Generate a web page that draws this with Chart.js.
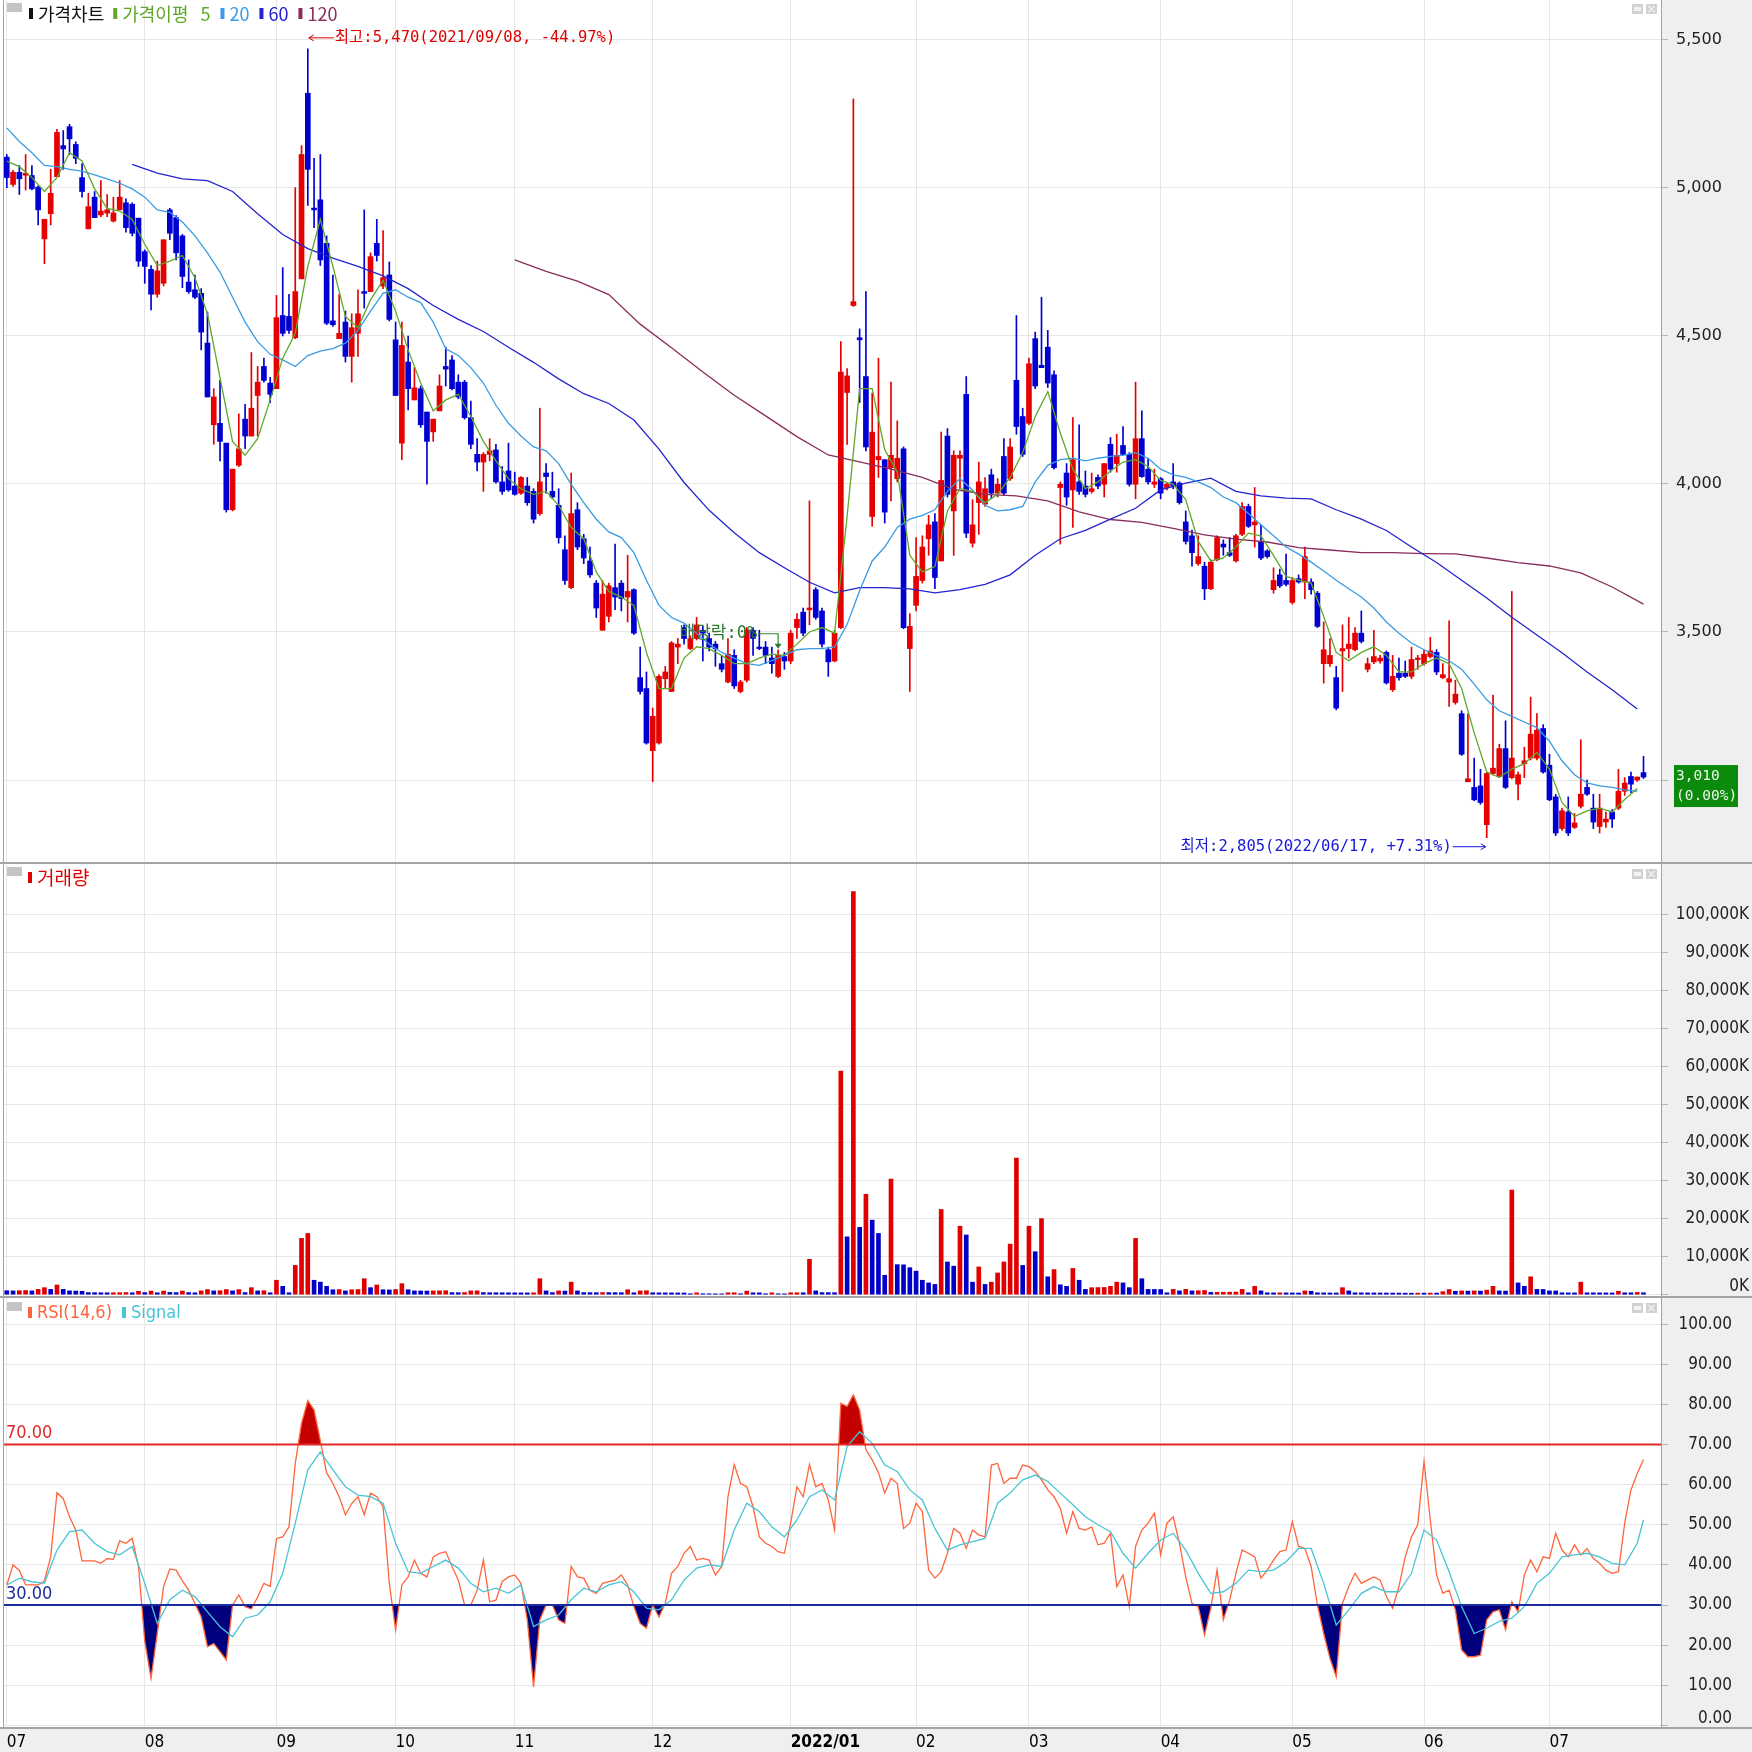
<!DOCTYPE html>
<html lang="ko">
<head>
<meta charset="utf-8">
<title>가격차트</title>
<script src="https://cdn.jsdelivr.net/npm/chart.js@4.4.1/dist/chart.umd.min.js"></script>
<style>
  html, body { margin:0; padding:0; background:#fff; }
  #wrap { position:relative; width:1752px; height:1752px; overflow:hidden; background:#fff; }
  .fill { position:absolute; background:#efefef; }
  .rule { position:absolute; background:#a4a4a4; }
  canvas { position:absolute; left:0; }
</style>
</head>
<body>
<div id="wrap">
  <div class="fill" style="left:1662px;top:0;width:90px;height:1752px"></div>
  <div class="fill" style="left:0;top:1729px;width:1752px;height:23px"></div>
  <canvas id="priceChart" width="1752" height="862" style="top:0"></canvas>
  <canvas id="volumeChart" width="1752" height="435" style="top:862px"></canvas>
  <canvas id="rsiChart" width="1752" height="455" style="top:1297px"></canvas>
  <div class="rule" style="left:0;top:862px;width:1752px;height:2px"></div>
  <div class="rule" style="left:0;top:1296px;width:1752px;height:2px"></div>
  <div class="rule" style="left:0;top:1727px;width:1752px;height:2px"></div>
  <div class="rule" style="left:3px;top:0;width:1px;height:1728px"></div>
</div>
<script>
// ---------------- DATA (daily, 2021/07/01 .. 2022/07/22) ----------------
const monthStarts = [0, 22, 43, 62, 81, 103, 125, 145, 163, 184, 205, 226, 246];
const monthNames  = ['07','08','09','10','11','12','2022/01','02','03','04','05','06','07'];
const priceTicks  = [3000, 3500, 4000, 4500, 5000, 5500];
const volumeTicks = [0, 10000, 20000, 30000, 40000, 50000, 60000, 70000, 80000, 90000, 100000];
const rsiTicks    = [0, 10, 20, 30, 40, 50, 60, 70, 80, 90, 100];

const opens = [
5104,5012,5053,5043,5042,5003,4828,4913,5038,5143,
5207,5147,5035,4862,4969,4909,4915,4888,4926,4950,
4945,4898,4785,4725,4641,4678,4926,4900,4838,4682,
4656,4644,4476,4200,4205,4138,3913,4063,4219,4162,
4299,4397,4341,4322,4569,4566,4494,4693,5320,4932,
4960,4813,4551,4491,4547,4431,4509,4650,4650,4813,
4669,4706,4487,4138,4412,4284,4322,4243,4176,4247,
4397,4419,4344,4344,4224,4100,4074,4100,4115,4007,
4044,3993,3969,3993,3975,3900,4037,3975,3928,3778,
3650,3913,3815,3740,3665,3506,3553,3650,3665,3618,
3643,3346,3309,3099,3125,3342,3299,3449,3515,3444,
3478,3506,3478,3459,3393,3331,3421,3299,3337,3506,
3449,3449,3412,3350,3417,3402,3515,3567,3575,3643,
3571,3440,3402,3515,4309,4603,4494,4363,3890,4082,
4082,4055,4018,4119,3444,3590,3674,3815,3872,3740,
4162,3909,4087,4303,3800,3937,3932,4031,3969,4093,
4018,4350,4228,4205,4491,4401,4462,4369,3988,4037,
3980,4007,3993,3975,4022,3999,4134,4069,4130,4100,
3999,4153,4050,3999,4018,3988,4007,4003,3872,3825,
3731,3722,3646,3744,3797,3768,3740,3830,3924,3862,
3806,3774,3643,3693,3674,3600,3680,3669,3669,3631,
3393,3393,3346,3436,3444,3440,3496,3374,3399,3402,
3431,3305,3361,3361,3350,3407,3393,3417,3431,3346,
3331,3262,3224,2994,2975,2980,2849,3022,3012,3106,
3008,2986,3055,3074,3074,3174,3050,2943,2836,2892,
2840,2911,2975,2905,2843,2858,2892,2905,2962,3012,
3000,3025];

const highs = [
5113,5060,5076,5113,5076,5007,4894,5063,5198,5194,
5215,5156,5082,4982,4988,5025,4978,4969,5025,4963,
4950,4898,4791,4738,4753,4825,4931,4907,4843,4757,
4706,4660,4581,4322,4350,4138,4050,4237,4269,4444,
4397,4425,4360,4637,4731,4641,5001,5143,5470,5100,
5113,4838,4706,4641,4584,4575,4656,4926,4781,4894,
4856,4750,4547,4547,4500,4393,4331,4243,4219,4369,
4462,4434,4369,4350,4280,4153,4106,4153,4134,4059,
4138,4040,4025,4022,3984,4256,4069,4040,3984,3825,
4037,3937,3830,3787,3674,3674,3665,3797,3674,3759,
3646,3449,3365,3243,3356,3384,3468,3478,3524,3487,
3549,3519,3496,3468,3421,3478,3440,3337,3515,3515,
3506,3468,3449,3440,3431,3506,3562,3581,3943,3650,
3581,3449,3506,4481,4390,5301,4524,4650,4307,4425,
4082,4344,4213,4125,3562,3819,3825,3894,3900,4175,
4187,4112,4112,4363,3947,4074,4022,4050,4018,4153,
4153,4569,4256,4425,4513,4631,4519,4382,4007,4069,
4224,4200,4044,4037,4031,4069,4157,4168,4194,4106,
4344,4247,4087,4050,4022,4003,4069,4007,3909,3844,
3825,3736,3744,3825,3811,3819,3830,3937,3932,3988,
3862,3778,3717,3712,3763,3684,3693,3787,3680,3637,
3534,3478,3384,3524,3549,3515,3571,3412,3506,3421,
3436,3421,3412,3402,3449,3421,3440,3482,3440,3393,
3538,3337,3234,3224,3074,3036,3027,3287,3121,3200,
3637,3027,3111,3280,3224,3187,3087,2952,2905,2943,
2887,3136,3000,2952,2952,2892,2900,3036,3008,3027,
3010,3080];

const lows = [
5001,5005,4978,4993,4993,4875,4744,4875,5038,5063,
5113,5082,4969,4862,4900,4903,4903,4885,4926,4851,
4838,4735,4678,4588,4631,4669,4825,4757,4663,4644,
4626,4453,4294,4134,4078,3905,3909,4059,4119,4162,
4162,4344,4275,4322,4500,4509,4491,4693,4941,4866,
4738,4538,4532,4491,4412,4344,4431,4594,4650,4753,
4660,4551,4299,4082,4250,4284,4191,3999,4144,4247,
4331,4318,4288,4219,4119,4044,3975,4078,4003,3965,
3975,3962,3965,3928,3868,3894,3969,3950,3800,3661,
3646,3778,3731,3684,3549,3506,3534,3575,3571,3534,
3492,3290,3121,2994,3121,3309,3299,3393,3459,3440,
3473,3402,3436,3384,3365,3328,3309,3294,3331,3421,
3440,3393,3361,3346,3374,3393,3478,3487,3524,3543,
3449,3350,3399,3511,4134,4600,4275,4112,3857,4022,
3868,3943,4007,3511,3299,3571,3665,3759,3646,3740,
3956,3759,3984,3819,3787,3830,3924,3950,3956,3962,
4012,4168,4093,4200,4322,4393,4326,4050,3797,3928,
3853,3965,3956,3969,3984,3956,4040,4040,4097,3993,
3950,4022,3999,3988,3950,3980,3984,3932,3797,3722,
3725,3609,3643,3740,3759,3755,3736,3825,3853,3787,
3744,3750,3631,3650,3656,3594,3665,3613,3628,3515,
3327,3384,3237,3299,3412,3436,3463,3365,3393,3395,
3324,3299,3337,3346,3342,3374,3388,3412,3356,3342,
3249,3256,3083,2994,2930,2918,2805,3017,3008,2971,
3004,2933,3008,3068,3068,3023,2930,2812,2830,2812,
2836,2905,2948,2836,2821,2840,2840,2900,2948,2957,
2995,3005];

const closes = [
5035,5053,5031,5050,4997,4926,4894,4982,5188,5132,
5166,5100,4988,4937,4900,4922,4926,4916,4969,4866,
4847,4753,4735,4641,4720,4825,4847,4781,4701,4650,
4631,4513,4294,4294,4144,3913,4050,4119,4162,4256,
4344,4350,4303,4562,4509,4519,4650,5113,5063,4926,
4757,4543,4538,4509,4431,4528,4575,4644,4768,4772,
4697,4556,4299,4468,4322,4325,4200,4144,4219,4331,
4388,4322,4294,4224,4134,4074,4100,4112,4007,3975,
3980,3965,4022,3937,3881,4007,4025,3956,3819,3674,
3900,3787,3750,3693,3581,3628,3656,3618,3613,3637,
3496,3299,3125,3215,3350,3365,3463,3459,3478,3478,
3524,3496,3449,3444,3374,3425,3318,3331,3506,3478,
3444,3421,3393,3421,3402,3496,3543,3496,3581,3549,
3459,3399,3496,4378,4365,4616,4487,4125,4175,4093,
3905,4097,4087,3515,3519,3688,3787,3862,3684,4012,
3965,4097,4097,3834,3862,4007,3984,3969,3999,3969,
4125,4194,4100,4406,4331,4393,4341,4055,3999,3956,
4082,3975,3965,3984,3993,4069,4050,4097,4100,3999,
4153,4025,4007,4007,3969,3999,3993,3937,3806,3768,
3755,3646,3736,3819,3787,3759,3825,3924,3857,3872,
3750,3755,3674,3656,3661,3674,3669,3755,3643,3519,
3440,3421,3243,3444,3459,3496,3468,3393,3417,3412,
3328,3350,3346,3350,3407,3412,3425,3436,3365,3356,
3342,3290,3087,3004,2933,2924,3022,3040,3106,2975,
3074,3018,3065,3155,3168,3027,2933,2821,2896,2821,
2855,2952,2952,2858,2905,2868,2868,2962,2990,2986,
3010,3010];

// volume in thousand shares (K)
const volumes = [
1050,1000,1050,1100,1000,1400,1850,1400,2550,1400,
1000,950,900,550,530,510,500,520,540,560,
500,900,550,950,500,950,600,550,950,550,
500,1000,1350,1000,1050,1350,1000,1350,550,1850,
1000,1050,500,3800,2200,500,7700,14800,16100,3800,
3300,2200,1300,1350,1000,1300,1350,4200,1850,2550,
1300,1250,1350,2900,1300,1000,980,960,1000,1020,
1050,550,530,560,1000,1020,550,530,520,510,
500,490,480,470,500,4200,1000,550,1000,950,
3300,1000,550,540,530,560,550,540,530,1300,
500,1000,1050,500,490,480,470,460,450,250,
500,250,240,230,220,500,520,250,950,500,
490,250,500,240,230,500,520,510,9300,1000,
550,540,530,58800,15200,106000,17700,26400,19600,16100,
5100,30400,7900,7850,7100,6200,3800,3100,2700,22400,
8600,7500,18000,15700,3300,7300,2700,3300,5700,8600,
13300,35900,7700,18000,11300,20000,4700,6600,2600,2200,
6900,3800,1400,1850,1870,1900,2200,3300,3100,1850,
14800,4200,1400,1380,1360,500,1400,1000,1400,1000,
1050,1100,600,620,640,660,680,1400,500,2200,
1000,500,480,500,480,460,450,1000,900,500,
480,460,450,1850,1000,500,480,470,460,450,
440,430,420,410,400,420,410,430,420,800,
1350,900,1000,950,1000,950,1200,2200,1000,950,
27500,3100,2200,4700,1400,1380,1000,980,500,480,
470,3300,500,490,480,470,460,900,500,490,
600,500];

const rsi = [
35,40,38.6,35,35,35,36,42,58,56.5,
52,48.7,41,41,41,40.4,41.6,41.4,46,45.4,
46.6,39.6,21,11.7,23,34.6,39,38.7,36,33.7,
30.4,27,19.6,20.4,18.4,16.3,30,32.5,29.6,29,
32,35.4,34.6,46.6,47,49.5,65.3,75.3,81,78.6,
71,63,60.3,57,52.5,55.3,57,52.5,57.9,57,
54.5,35.4,23.8,35,37,41.2,37.9,37,42,42.9,
43.3,39.6,36.2,30,30,33.7,41.2,30.8,31.2,35.8,
37,37.5,35.4,26.3,9.6,26.3,30,30,26.3,25.4,
39.6,37,36.7,33.7,32.9,35.4,35.8,36.2,37.5,35,
29.6,25.4,24.2,30,27,30.4,37.9,39.6,42.9,44.6,
41.2,41.6,41.2,37.5,39.6,57,65,60.3,59.5,54.5,
47,45.4,44.6,43.3,42.9,50.4,59.5,57,65,59.5,
60.3,56.2,48.7,80.3,79.5,82.4,78.6,68.7,66.2,63,
57.9,61.6,60.3,49.1,50.4,55.4,53.3,38.7,36.7,38.3,
42.9,49.1,47.9,44.1,48.7,47.5,47,64.9,65.3,60.3,
61.6,61.6,64.9,64.5,63.3,61.2,58.7,57,54.1,47.9,
53.3,49.1,48.7,49.5,45,45.4,47.9,34.6,37.5,29.6,
44.6,48.7,50.4,52.9,42.5,50.4,52,45.4,37,30.4,
29.6,22.5,29.2,38.7,26.3,31.2,37.9,43.7,42.9,42,
36.7,38.7,41.2,43.3,43.7,50.8,44.6,44.1,39.6,30,
22.9,16.7,12.1,30.4,34.6,37.9,35.4,36.2,37,36.2,
32.1,29.2,34.6,42,47,50,65.8,51.2,37.5,32.9,
33.7,28.8,18.8,17.1,17.1,17.5,26.3,28.3,28.8,23.8,
30.8,28.3,37.5,41.2,38.3,42,41.6,47.9,43.7,42,
45,42.5,44.1,41.6,40.4,38.7,37.9,38.3,50.4,58.7,
62.8,66.3];

// smooth lines read every few sessions (first index, spacing in sessions)
const signalStart = 0, signalStep = 2;
const signal = [
35,36.7,35.8,35.4,43.7,48.3,48.7,45.4,43.3,42.5,
44.6,35.4,25.4,31.3,33.7,32.1,28.3,24.6,22.1,26.7,
27.5,30.8,37.9,50.4,63.7,68.2,63.7,59.5,57.4,57,
55.4,45.4,38.3,37.9,39.6,41.2,39.2,35.4,33.3,34.2,
32.9,35,24.6,26.3,27.5,31.3,34.2,33.3,35,35.8,
33.3,29.2,28.8,31.3,36.2,39.2,40,39.6,48.7,55.4,
53.3,49.5,47,51.2,57,58.7,56.2,69.5,73.2,70.3,
64.9,63.3,58.7,56.2,49.1,43.7,45,45.8,46.6,55.4,
57.9,61.2,62.4,60.8,57.9,55,52,50,48.3,42.9,
39.2,42.9,46.2,47.9,43.7,37.9,32.9,33.3,35.4,38.7,
38.3,38.7,40.8,44.1,44.1,35.4,25,28.8,32.9,34.6,
33.3,33.3,37.9,48.7,46.2,38.3,29.6,22.9,24.2,25.9,
26.7,29.6,35.4,37.9,42,42.5,42.9,42,40.4,40,
45.4];
const signalLastDay = 261, signalLast = 51.2;

const ma5Start = 0, ma5Step = 2;
const ma5 = [
5091,5072,5035,4988,5035,5119,5091,4997,4931,4922,
4894,4810,4738,4753,4772,4697,4575,4359,4144,4097,
4153,4284,4425,4509,4735,4894,4735,4566,4528,4622,
4688,4584,4453,4341,4247,4284,4303,4228,4144,4078,
4018,3984,3965,3975,3928,3853,3815,3703,3637,3618,
3590,3431,3309,3309,3412,3450,3444,3421,3393,3393,
3412,3425,3421,3459,3500,3515,3496,3890,4322,4322,
4116,4040,3759,3703,3721,3909,3984,3975,3937,3965,
4022,4106,4228,4312,4172,4050,3984,4007,4044,4074,
4082,4059,4012,3999,3947,3806,3740,3750,3787,3834,
3825,3759,3688,3675,3665,3553,3431,3403,3431,3450,
3421,3365,3365,3393,3412,3393,3309,3159,3027,3009,
3037,3055,3093,3037,2924,2877,2896,2905,2892,2934,
2971];

const ma20Start = 0, ma20Step = 2;
const ma20 = [
5203,5157,5119,5076,5072,5063,5057,5044,5031,5016,
4997,4969,4926,4918,4885,4838,4781,4716,4631,4547,
4481,4438,4419,4397,4434,4449,4457,4476,4519,4584,
4644,4656,4631,4613,4547,4457,4434,4393,4341,4266,
4205,4162,4125,4112,4069,3999,3937,3881,3838,3819,
3768,3675,3590,3549,3530,3496,3459,3431,3412,3393,
3387,3403,3421,3440,3444,3444,3450,3525,3640,3740,
3787,3853,3881,3894,3913,3975,4018,3980,3928,3909,
3913,3924,4007,4063,4082,4087,4078,4087,4093,4097,
4106,4087,4050,4031,4022,4007,3988,3956,3937,3900,
3862,3825,3787,3763,3736,3706,3675,3646,3618,3581,
3534,3496,3463,3440,3421,3403,3374,3324,3271,3234,
3215,3196,3177,3131,3065,3018,2990,2980,2975,2967,
2962];

const ma60Start = 20, ma60Step = 4;
const ma60 = [
5080,5050,5031,5025,4988,4913,4843,4795,4763,4735,
4703,4660,4603,4556,4515,4462,4411,4355,4305,4272,
4216,4118,4005,3911,3835,3768,3717,3668,3632,3650,
3650,3646,3632,3643,3661,3693,3759,3815,3843,3881,
3918,3980,4003,4020,3975,3960,3952,3950,3913,3881,
3843,3787,3735,3675,3615,3550,3490,3430,3365,3305,
3240];

const ma120Start = 81, ma120Step = 5;
const ma120 = [
4757,4718,4685,4640,4540,4460,4378,4300,4230,4160,
4098,4075,4050,4022,3982,3965,3960,3943,3906,3880,
3870,3850,3828,3814,3804,3785,3777,3768,3768,3765,
3764,3750,3734,3723,3700,3652,3594];

const highDate = '2021/09/08';
const lowDate = '2022/06/17';
const exDivIndex = 123;
const exDivText = '배당락:0%';
const rsiLevels = [70, 30];

// ---------------- STYLE ----------------
const KR = '"Noto Sans CJK KR", "Noto Sans", sans-serif';
const NARROW = '"DejaVu Sans Condensed", "DejaVu Sans", sans-serif';
const NUMF = '"DejaVu Sans", sans-serif';
const MONO_KR = '"DejaVu Sans Mono", "Noto Sans CJK KR", monospace';
const GRID = '#e6e6e6';
const UP = '#e60000', DOWN = '#0000d2';
const C_MA5 = '#5fa82a', C_MA20 = '#3a9be4', C_MA60 = '#2323cf', C_MA120 = '#8a2c5c';
const C_RSI = '#ff643a', C_SIG = '#48c4d6';
const X_MIN = -0.447, X_MAX = 263.79;

Chart.defaults.animation = false;
Chart.defaults.font.family = NARROW;

const pts = arr => arr.map((v, i) => ({ x: i, y: v }));
const sampled = (arr, start, step) => arr.map((v, k) => ({ x: start + k * step, y: v }));
const fmt = v => v.toLocaleString('en-US');

const candleColors = closes.map((c, i) => (c >= opens[i] ? UP : DOWN));
const volColors = volumes.map((v, i) => (i > 0 && v >= volumes[i - 1] ? '#e00000' : '#0000c8'));

function xAxis(showLabels) {
  return {
    type: 'linear', min: X_MIN, max: X_MAX, offset: false,
    afterBuildTicks: s => { s.ticks = monthStarts.map(v => ({ value: v })); },
    afterFit: s => { s.height = showLabels ? 25 : 0; s.paddingLeft = 0; s.paddingRight = 0; },
    grid: { color: GRID, lineWidth: 1, drawTicks: false, offset: false },
    border: { display: false },
    ticks: showLabels ? {
      autoSkip: false, maxRotation: 0, minRotation: 0, align: 'start', padding: 5, color: '#000',
      font: c => ({ family: NARROW, size: 17,
        weight: (c.tick && String(monthNames[monthStarts.indexOf(c.tick.value)]).includes('/')) ? 'bold' : 'normal' }),
      callback: v => monthNames[monthStarts.indexOf(v)]
    } : { display: false }
  };
}
function yAxis(min, max, tickValues, width, labelFn, extra) {
  return Object.assign({
    type: 'linear', position: 'right', min: min, max: max,
    afterBuildTicks: s => { s.ticks = tickValues.map(v => ({ value: v })); },
    afterFit: s => { s.width = width; s.paddingTop = 0; s.paddingBottom = 0; },
    grid: { color: GRID, tickLength: 7, tickColor: '#b8b8b8' },
    border: { display: true, color: '#a4a4a4' }
  }, extra || {}, { ticks: Object.assign({ callback: labelFn, color: '#222' }, (extra && extra.ticks) || {}) });
}
function grayBox(ctx, x, y) { ctx.fillStyle = '#c4c4c4'; ctx.fillRect(x, y, 15, 9); }
function legend(ctx, items, startX, cy) {
  let px = startX;
  ctx.textBaseline = 'middle'; ctx.textAlign = 'left';
  items.forEach(it => {
    if (it.bar) { ctx.fillStyle = it.bar; ctx.fillRect(px, cy - 6, 4, 11); px += 9; }
    ctx.font = it.font; ctx.fillStyle = it.color;
    ctx.fillText(it.text, px, cy);
    px += ctx.measureText(it.text).width + (it.gap !== undefined ? it.gap : 9);
  });
}
function winIcons(ctx, right, top) {
  ctx.fillStyle = '#d2d2d2';
  ctx.fillRect(right - 29, top, 11, 10); ctx.fillRect(right - 15, top, 11, 10);
  ctx.fillStyle = '#f4f4f4'; ctx.fillRect(right - 27, top + 3, 7, 4);
  ctx.strokeStyle = '#f4f4f4'; ctx.lineWidth = 1.2; ctx.beginPath();
  ctx.moveTo(right - 12.5, top + 2); ctx.lineTo(right - 6.5, top + 8);
  ctx.moveTo(right - 6.5, top + 2); ctx.lineTo(right - 12.5, top + 8); ctx.stroke();
}

// ---------------- PRICE ----------------
const priceDecor = {
  id: 'priceDecor',
  afterDraw(chart) {
    const { ctx, chartArea: a, scales: { x, y } } = chart;
    ctx.save();
    grayBox(ctx, 7, 3);
    const LF = '18px ' + KR;
    legend(ctx, [
      { bar: '#111', text: '가격차트', color: '#111', font: LF },
      { bar: C_MA5, text: '가격이평', color: C_MA5, font: LF, gap: 12 },
      { text: '5', color: C_MA5, font: LF, gap: 10 },
      { bar: C_MA20, text: '20', color: C_MA20, font: LF, gap: 10 },
      { bar: C_MA60, text: '60', color: C_MA60, font: LF, gap: 10 },
      { bar: C_MA120, text: '120', color: C_MA120, font: LF }
    ], 29, 14);
    winIcons(ctx, a.right, 4);

    const last = closes[closes.length - 1];
    const prev = closes[closes.length - 2];
    // highest
    const hi = Math.max(...highs), hiIdx = highs.indexOf(hi);
    const hx = x.getPixelForValue(hiIdx), hy = y.getPixelForValue(hi) - 11;
    const hiPct = ((last - hi) / hi * 100).toFixed(2);
    ctx.strokeStyle = '#e00000'; ctx.fillStyle = '#e00000'; ctx.lineWidth = 1;
    ctx.beginPath(); ctx.moveTo(hx + 1, hy); ctx.lineTo(hx + 26, hy);
    ctx.moveTo(hx + 1, hy); ctx.lineTo(hx + 6, hy - 3); ctx.moveTo(hx + 1, hy); ctx.lineTo(hx + 6, hy + 3); ctx.stroke();
    ctx.font = '15.5px ' + MONO_KR; ctx.textAlign = 'left'; ctx.textBaseline = 'middle';
    ctx.fillText('최고:' + fmt(hi) + '(' + highDate + ', ' + hiPct + '%)', hx + 27, hy);
    // lowest
    const lo = Math.min(...lows), loIdx = lows.indexOf(lo);
    const lx = x.getPixelForValue(loIdx), ly = y.getPixelForValue(lo) + 9;
    const loPct = ((last - lo) / lo * 100).toFixed(2);
    ctx.strokeStyle = '#1818d8'; ctx.fillStyle = '#1818d8';
    ctx.beginPath(); ctx.moveTo(lx - 34, ly); ctx.lineTo(lx - 1, ly);
    ctx.moveTo(lx - 1, ly); ctx.lineTo(lx - 6, ly - 3); ctx.moveTo(lx - 1, ly); ctx.lineTo(lx - 6, ly + 3); ctx.stroke();
    ctx.textAlign = 'right';
    ctx.fillText('최저:' + fmt(lo) + '(' + lowDate + ', +' + loPct + '%)', lx - 35, ly);
    // ex-dividend marker
    const ex = x.getPixelForValue(exDivIndex), tip = y.getPixelForValue(highs[exDivIndex]) - 1, ey = tip - 15;
    ctx.strokeStyle = '#2f8a2f'; ctx.fillStyle = '#2f7a2f'; ctx.lineWidth = 1.2;
    ctx.beginPath(); ctx.moveTo(ex - 20, ey); ctx.lineTo(ex, ey); ctx.lineTo(ex, tip - 4); ctx.stroke();
    ctx.beginPath(); ctx.moveTo(ex - 3.5, tip - 5); ctx.lineTo(ex + 3.5, tip - 5); ctx.lineTo(ex, tip); ctx.closePath(); ctx.fill();
    ctx.font = '17px ' + MONO_KR; ctx.textAlign = 'right';
    ctx.fillText(exDivText, ex - 21, ey);
    // current price box
    const by = y.getPixelForValue(last);
    const chg = ((last - prev) / prev * 100).toFixed(2);
    ctx.fillStyle = '#0b8a0b';
    ctx.fillRect(a.right + 13, by - 12, 64, 42);
    ctx.fillStyle = '#eef8ee'; ctx.font = '14.5px "DejaVu Sans Mono", monospace'; ctx.textAlign = 'left';
    ctx.fillText(fmt(last), a.right + 15, by - 1);
    ctx.fillText('(' + chg + '%)', a.right + 15, by + 19);
    ctx.restore();
  }
};

new Chart(document.getElementById('priceChart'), {
  type: 'bar',
  data: {
    datasets: [
      { type: 'line', label: '5', data: sampled(ma5, ma5Start, ma5Step), borderColor: C_MA5, borderWidth: 1.3, pointRadius: 0, tension: 0, order: 0 },
      { type: 'line', label: '20', data: sampled(ma20, ma20Start, ma20Step), borderColor: C_MA20, borderWidth: 1.3, pointRadius: 0, tension: 0, order: 0 },
      { type: 'line', label: '60', data: sampled(ma60, ma60Start, ma60Step), borderColor: C_MA60, borderWidth: 1.3, pointRadius: 0, tension: 0, order: 0 },
      { type: 'line', label: '120', data: sampled(ma120, ma120Start, ma120Step), borderColor: C_MA120, borderWidth: 1.3, pointRadius: 0, tension: 0, order: 0 },
      { label: 'body', data: opens.map((o, i) => ({ x: i, y: [o, closes[i]] })), backgroundColor: candleColors,
        barThickness: 5, minBarLength: 1.5, grouped: false, order: 1 },
      { label: 'wick', data: lows.map((l, i) => ({ x: i, y: [l, highs[i]] })), backgroundColor: candleColors,
        barThickness: 1, grouped: false, order: 2 }
    ]
  },
  options: {
    responsive: false, devicePixelRatio: 1, events: [],
    layout: { padding: { left: 4, right: 0, top: 0, bottom: 0 } },
    plugins: { legend: { display: false }, tooltip: { enabled: false } },
    scales: {
      x: xAxis(false),
      y: yAxis(2723, 5635, priceTicks, 91, v => fmt(v),
        { ticks: { padding: 8, font: { family: NUMF, size: 16 } } })
    }
  },
  plugins: [priceDecor]
});

// ---------------- VOLUME ----------------
const volDecor = {
  id: 'volDecor',
  afterDraw(chart) {
    const { ctx, chartArea: a, scales: { y } } = chart;
    ctx.save();
    grayBox(ctx, 7, 5);
    legend(ctx, [{ bar: '#e00000', text: '거래량', color: '#e00000', font: '19px ' + KR }], 28, 16);
    winIcons(ctx, a.right, 7);
    ctx.font = '17px ' + NARROW;
    ctx.fillStyle = '#222'; ctx.textAlign = 'right'; ctx.textBaseline = 'middle';
    ctx.fillText(fmt(volumeTicks[0]) + 'K', y.right, y.getPixelForValue(volumeTicks[0]) - 8);
    ctx.restore();
  }
};
new Chart(document.getElementById('volumeChart'), {
  type: 'bar',
  data: { datasets: [{ label: '거래량', data: pts(volumes), backgroundColor: volColors, barThickness: 4, grouped: false }] },
  options: {
    responsive: false, devicePixelRatio: 1, events: [],
    layout: { padding: { left: 4, right: 3, top: 0, bottom: 0 } },
    plugins: { legend: { display: false }, tooltip: { enabled: false } },
    scales: {
      x: xAxis(false),
      y: yAxis(-605, 113750, volumeTicks, 88, v => fmt(v) + 'K',
        { ticks: { padding: 8, crossAlign: 'far', font: { family: NARROW, size: 17 },
          color: c => (c.tick && c.tick.value === 0 ? 'rgba(0,0,0,0)' : '#222') } })
    }
  },
  plugins: [volDecor]
});

// ---------------- RSI ----------------
const rsiDecor = {
  id: 'rsiDecor',
  afterDatasetsDraw(chart) {
    const { ctx, chartArea: a, scales: { y } } = chart;
    ctx.save();
    const cols = ['#e02828', '#1c2c9c'];
    rsiLevels.forEach((lv, k) => {
      const py = y.getPixelForValue(lv);
      ctx.strokeStyle = cols[k]; ctx.lineWidth = 2;
      ctx.beginPath(); ctx.moveTo(a.left, py); ctx.lineTo(a.right, py); ctx.stroke();
      ctx.fillStyle = cols[k]; ctx.font = '18px ' + NARROW; ctx.textAlign = 'left'; ctx.textBaseline = 'middle';
      ctx.fillText(lv.toFixed(2), 6, py - 11);
    });
    ctx.restore();
  },
  afterDraw(chart) {
    const { ctx, chartArea: a, scales: { y } } = chart;
    ctx.save();
    grayBox(ctx, 7, 5);
    legend(ctx, [
      { bar: C_RSI, text: 'RSI(14,6)', color: C_RSI, font: '18px ' + NARROW, gap: 10 },
      { bar: C_SIG, text: 'Signal', color: C_SIG, font: '18px ' + NARROW }
    ], 28, 16);
    winIcons(ctx, a.right, 6);
    ctx.font = '17px ' + NARROW;
    ctx.fillStyle = '#222'; ctx.textAlign = 'right'; ctx.textBaseline = 'middle';
    ctx.fillText(rsiTicks[0].toFixed(2), y.right, y.getPixelForValue(rsiTicks[0]) - 7);
    ctx.restore();
  }
};
new Chart(document.getElementById('rsiChart'), {
  type: 'line',
  data: {
    datasets: [
      { label: 'over', data: pts(rsi), borderColor: 'rgba(0,0,0,0)', borderWidth: 0, pointRadius: 0,
        fill: { target: { value: rsiLevels[0] }, above: '#c40000', below: 'rgba(0,0,0,0)' }, order: 3 },
      { label: 'under', data: pts(rsi), borderColor: 'rgba(0,0,0,0)', borderWidth: 0, pointRadius: 0,
        fill: { target: { value: rsiLevels[1] }, above: 'rgba(0,0,0,0)', below: '#00007e' }, order: 3 },
      { label: 'RSI(14,6)', data: pts(rsi), borderColor: C_RSI, borderWidth: 1.3, pointRadius: 0, tension: 0, fill: false, order: 1 },
      { label: 'Signal', data: sampled(signal, signalStart, signalStep).concat([{ x: signalLastDay, y: signalLast }]),
        borderColor: C_SIG, borderWidth: 1.3, pointRadius: 0, tension: 0, fill: false, order: 0 }
    ]
  },
  options: {
    responsive: false, devicePixelRatio: 1, events: [],
    layout: { padding: { left: 4, right: 20, top: 0, bottom: 0 } },
    plugins: { legend: { display: false }, tooltip: { enabled: false } },
    scales: {
      x: xAxis(true),
      y: yAxis(-0.42, 106.8, rsiTicks, 71, v => v.toFixed(2),
        { ticks: { padding: 8, crossAlign: 'far', font: { family: NARROW, size: 17 },
          color: c => (c.tick && c.tick.value === 0 ? 'rgba(0,0,0,0)' : '#222') } })
    }
  },
  plugins: [rsiDecor]
});
</script>
</body>
</html>
